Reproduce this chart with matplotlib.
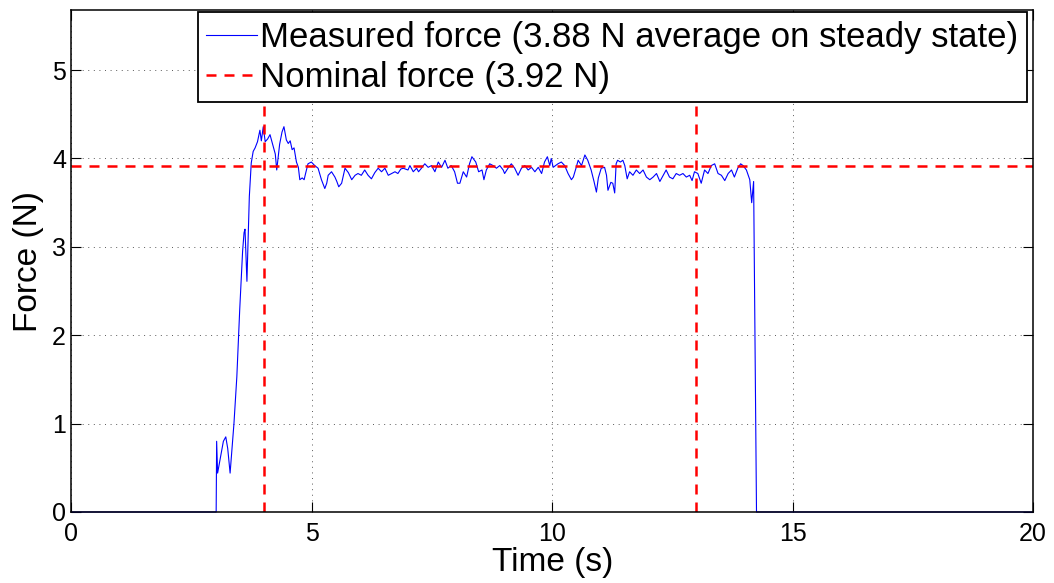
import matplotlib.pyplot as plt
import numpy as np

# measured force trace (time in s, force in N)
t_meas = [0, 3.01, 3.02, 3.04, 3.10, 3.16, 3.21, 3.25, 3.30, 3.38, 3.44, 3.50, 3.56, 3.59, 3.61, 3.65,
          3.70, 3.74, 3.78, 3.82, 3.87, 3.92, 3.95, 3.99, 4.03, 4.08, 4.13, 4.20, 4.24, 4.27, 4.33,
          4.38, 4.42, 4.47, 4.51, 4.55, 4.59, 4.63, 4.68, 4.72, 4.75, 4.80, 4.84, 4.87, 4.92, 4.99,
          5.06, 5.13, 5.20, 5.27, 5.31, 5.34, 5.41, 5.48, 5.52, 5.56, 5.62, 5.69, 5.76, 5.83, 5.90,
          5.96, 6.03, 6.10, 6.17, 6.24, 6.31, 6.38, 6.45, 6.52, 6.59, 6.66, 6.73, 6.79, 6.85, 6.90,
          7.00, 7.04, 7.11, 7.18, 7.22, 7.28, 7.35, 7.42, 7.49, 7.56, 7.63, 7.70, 7.77, 7.83, 7.90,
          7.97, 8.03, 8.08, 8.15, 8.22, 8.28, 8.33, 8.41, 8.47, 8.54, 8.58, 8.63, 8.70, 8.77, 8.84,
          8.91, 8.98, 9.01, 9.08, 9.15, 9.22, 9.29, 9.36, 9.43, 9.50, 9.57, 9.64, 9.71, 9.78, 9.84,
          9.90, 9.95, 9.98, 10.02, 10.12, 10.19, 10.26, 10.33, 10.40, 10.44, 10.50, 10.54, 10.61,
          10.68, 10.74, 10.81, 10.87, 10.92, 10.96, 11.02, 11.09, 11.13, 11.16, 11.22, 11.26, 11.30,
          11.33, 11.36, 11.42, 11.47, 11.51, 11.56, 11.61, 11.68, 11.75, 11.82, 11.89, 11.96, 12.03,
          12.10, 12.17, 12.24, 12.31, 12.37, 12.44, 12.51, 12.58, 12.65, 12.72, 12.79, 12.86, 12.91,
          12.96, 13.03, 13.10, 13.17, 13.24, 13.31, 13.38, 13.45, 13.52, 13.59, 13.66, 13.73, 13.79,
          13.86, 13.92, 13.97, 14.04, 14.11, 14.15, 14.19, 14.25, 20]
f_meas = [0, 0, 0.80, 0.44, 0.62, 0.80, 0.85, 0.72, 0.44, 1.00, 1.53, 2.29, 2.95, 3.16, 3.20, 2.61,
          3.57, 3.95, 4.08, 4.12, 4.19, 4.32, 4.20, 4.36, 4.19, 4.22, 4.27, 4.13, 4.05, 3.87, 4.16,
          4.30, 4.36, 4.21, 4.17, 4.20, 4.10, 4.12, 3.96, 3.90, 3.76, 3.78, 3.76, 3.83, 3.94, 3.96,
          3.92, 3.89, 3.76, 3.66, 3.72, 3.81, 3.85, 3.79, 3.74, 3.68, 3.72, 3.89, 3.84, 3.76, 3.81,
          3.83, 3.81, 3.87, 3.81, 3.77, 3.84, 3.89, 3.85, 3.89, 3.81, 3.83, 3.85, 3.83, 3.88, 3.89,
          3.87, 3.92, 3.85, 3.89, 3.85, 3.89, 3.94, 3.90, 3.92, 3.85, 3.96, 3.90, 3.98, 3.89, 3.92,
          3.85, 3.72, 3.72, 3.85, 3.79, 3.94, 4.02, 3.96, 3.85, 3.87, 3.76, 3.87, 3.94, 3.92, 3.89,
          3.92, 3.87, 3.83, 3.89, 3.94, 3.89, 3.81, 3.89, 3.92, 3.87, 3.90, 3.85, 3.90, 3.83, 3.96,
          4.02, 3.92, 4.00, 3.90, 3.94, 3.96, 3.92, 3.83, 3.76, 3.79, 3.90, 3.98, 3.92,
          4.04, 3.98, 3.87, 3.74, 3.62, 3.78, 3.89, 3.90, 3.81, 3.64, 3.73, 3.72, 3.61,
          3.94, 3.98, 3.96, 3.98, 3.92, 3.77, 3.85, 3.81, 3.87, 3.83, 3.87, 3.79, 3.76,
          3.79, 3.83, 3.74, 3.81, 3.87, 3.79, 3.77, 3.83, 3.81, 3.83, 3.79, 3.81, 3.75,
          3.85, 3.83, 3.72, 3.87, 3.83, 3.92, 3.94, 3.83, 3.81, 3.75, 3.83, 3.87, 3.79,
          3.89, 3.94, 3.92, 3.87, 3.76, 3.50, 3.74, 0, 0]

nominal_force = 3.92
steady_start = 4
steady_end = 13

label_meas = 'Measured force (3.88 N average on steady state)'
label_nom = 'Nominal force (3.92 N)'

plt.rcParams['font.family'] = ['Liberation Sans', 'DejaVu Sans']

fig = plt.figure(figsize=(10.54, 5.83), dpi=100)
ax = fig.add_axes([0.0678, 0.1218, 0.9122, 0.861])

ax.plot(t_meas, f_meas, color='#0000ff', lw=0.8, label=label_meas, clip_on=False)
red = dict(color='#ff0000', lw=1.8, dashes=(4, 3.2))
ax.axhline(nominal_force, label=label_nom, **red)
ax.axvline(steady_start, **red)
ax.axvline(steady_end, **red)

ax.set_xlim(0, 20)
ax.set_ylim(0, 5.68)
ax.set_xticks([0, 5, 10, 15, 20])
ax.set_yticks([0, 1, 2, 3, 4, 5])
ax.grid(True, color='#444444', lw=0.6, linestyle=(0, (1.2, 5.5)))
ax.tick_params(direction='in', length=7, width=0.8, top=True, right=True,
               labelsize=18, pad=4)
ax.tick_params(axis='x', pad=7)
for s in ax.spines.values():
    s.set_linewidth(1.1)

ax.set_xlabel('Time (s)', fontsize=24, labelpad=1)
ax.set_ylabel('Force (N)', fontsize=24, labelpad=6)

leg = ax.legend(loc='upper right', bbox_to_anchor=(0.9938, 0.996), borderaxespad=0,
                fontsize=25, handlelength=1.45, handletextpad=0.1, labelspacing=0.2,
                borderpad=0.25, fancybox=False, framealpha=1, edgecolor='black')
leg.get_frame().set_linewidth(1.3)

plt.savefig('out.png', dpi=100)
